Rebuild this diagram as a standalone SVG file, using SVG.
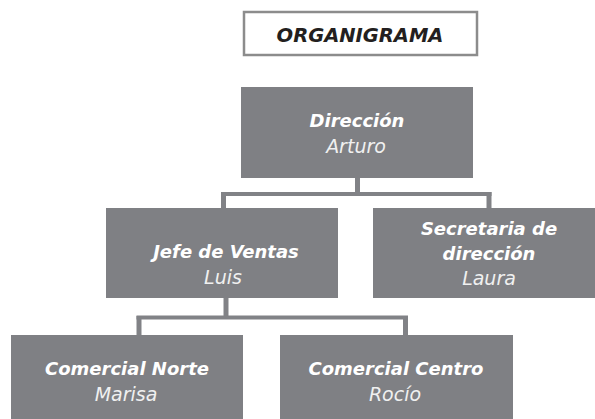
<svg xmlns="http://www.w3.org/2000/svg" width="595" height="419" viewBox="0 0 595 419">
  <style>
    .box { fill: #7f8084; }
    .conn { stroke: #818286; fill: none; }
    .t { font-family: "DejaVu Sans", "Liberation Sans", sans-serif; font-style: italic; font-weight: bold; font-size: 18px; fill: #ffffff; text-anchor: middle; }
    .n { font-family: "DejaVu Sans", "Liberation Sans", sans-serif; font-style: italic; font-weight: 200; font-size: 19px; fill: #f0f0f0; text-anchor: middle; }
    .title { font-family: "DejaVu Sans", "Liberation Sans", sans-serif; font-style: italic; font-weight: bold; font-size: 19.5px; fill: #231f20; text-anchor: middle; }
  </style>
  <rect width="595" height="419" fill="#ffffff"/>
  <g id="title">
    <rect x="244" y="12" width="233" height="43" fill="#ffffff" stroke="#8c8c8c" stroke-width="2.5"/>
    <text class="title" x="360" y="42">ORGANIGRAMA</text>
  </g>
  <g id="connectors">
    <line class="conn" x1="357.5" y1="178" x2="357.5" y2="195" stroke-width="5"/>
    <line class="conn" x1="221" y1="194" x2="491.5" y2="194" stroke-width="4"/>
    <line class="conn" x1="223.5" y1="192" x2="223.5" y2="208" stroke-width="5"/>
    <line class="conn" x1="489" y1="192" x2="489" y2="208" stroke-width="5"/>
    <line class="conn" x1="226" y1="298" x2="226" y2="319" stroke-width="5"/>
    <line class="conn" x1="136.5" y1="317.5" x2="408" y2="317.5" stroke-width="4"/>
    <line class="conn" x1="139" y1="316" x2="139" y2="335" stroke-width="5"/>
    <line class="conn" x1="405.5" y1="316" x2="405.5" y2="335" stroke-width="5"/>
  </g>
  <g id="direccion">
    <rect class="box" x="241" y="87" width="232" height="91"/>
    <text class="t" x="357" y="127">Dirección</text>
    <text class="n" x="356" y="153">Arturo</text>
  </g>
  <g id="jefe-ventas">
    <rect class="box" x="106" y="208" width="232" height="90"/>
    <text class="t" x="226" y="258">Jefe de Ventas</text>
    <text class="n" x="223" y="284">Luis</text>
  </g>
  <g id="secretaria">
    <rect class="box" x="373" y="208" width="232" height="90"/>
    <text class="t" x="489" y="235">Secretaria de</text>
    <text class="t" x="489" y="260">dirección</text>
    <text class="n" x="489" y="285">Laura</text>
  </g>
  <g id="comercial-norte">
    <rect class="box" x="11" y="335" width="232" height="90"/>
    <text class="t" x="127" y="375">Comercial Norte</text>
    <text class="n" x="126" y="401">Marisa</text>
  </g>
  <g id="comercial-centro">
    <rect class="box" x="280" y="335" width="233" height="90"/>
    <text class="t" x="396" y="375">Comercial Centro</text>
    <text class="n" x="395" y="401">Rocío</text>
  </g>
</svg>
